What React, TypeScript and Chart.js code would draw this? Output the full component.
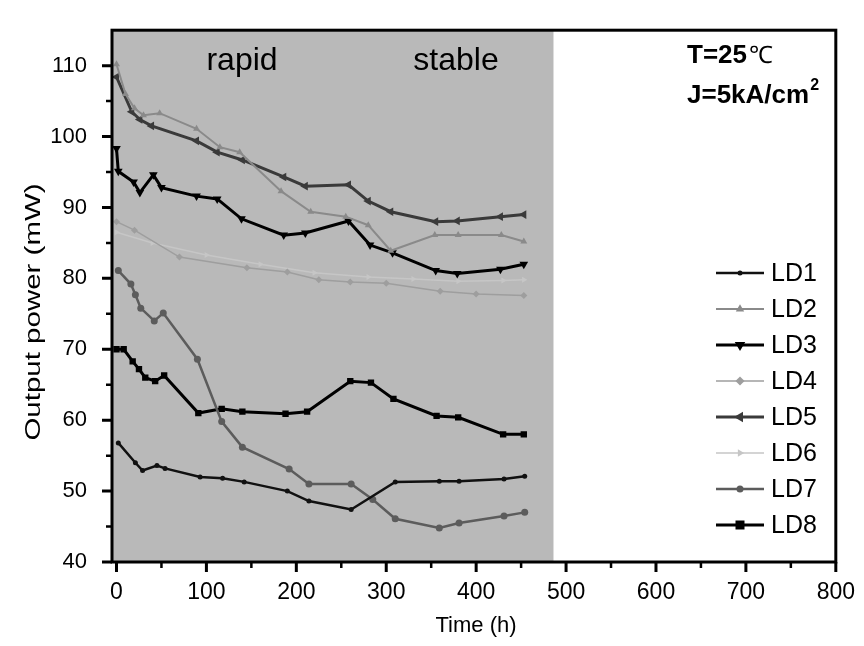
import React, { useEffect, useRef } from 'react';
import { Chart, registerables } from 'chart.js';

Chart.register(...registerables);

const FONT = '"Liberation Sans", Arial, Helvetica, sans-serif';

// ---------- data ----------
const SERIES_NAMES = ['LD1', 'LD2', 'LD3', 'LD4', 'LD5', 'LD6', 'LD7', 'LD8'];

const ld1Time = [2, 21, 29, 45, 54, 93, 118, 142, 190, 214, 261, 310, 359, 381, 431, 454];
const ld1Power = [56.8, 54.0, 52.9, 53.6, 53.2, 52.0, 51.8, 51.3, 50.0, 48.6, 47.4, 51.3, 51.4, 51.4, 51.7, 52.1];

const ld2Time = [0, 10, 20, 30, 48, 89, 115, 137, 183, 216, 255, 280, 305, 354, 380, 428, 453];
const ld2Power = [110.2, 106, 104, 103, 103.3, 101.1, 98.5, 97.8, 92.3, 89.4, 88.7, 87.5, 83.9, 86.1, 86.1, 86.1, 85.2];

const ld3Time = [0, 2, 19, 26, 41, 50, 89, 112, 139, 186, 210, 258, 282, 307, 355, 379, 427, 453];
const ld3Power = [98.3, 95.1, 93.6, 92.1, 94.6, 92.8, 91.6, 91.2, 88.4, 86.1, 86.4, 88.1, 84.7, 83.6, 81.1, 80.7, 81.3, 82.0];

const ld4Time = [0, 20, 70, 145, 190, 225, 260, 300, 360, 400, 453];
const ld4Power = [88, 86.8, 83, 81.5, 80.9, 79.8, 79.5, 79.3, 78.2, 77.8, 77.6];

const ld5Time = [0, 17, 26, 39, 89, 112, 140, 186, 210, 258, 280, 305, 355, 379, 427, 453];
const ld5Power = [108.4, 103.5, 102.4, 101.5, 99.4, 97.8, 96.7, 94.3, 93.0, 93.2, 90.9, 89.4, 88.0, 88.1, 88.7, 89.0];

const ld6Time = [0, 40, 100, 160, 220, 280, 330, 380, 430, 453];
const ld6Power = [86.5, 85, 83.3, 82, 80.8, 80.2, 79.9, 79.6, 79.7, 79.8];

const ld7Time = [2, 16, 21, 27, 42, 52, 90, 117, 140, 192, 214, 261, 285, 310, 359, 381, 431, 454];
const ld7Power = [81.1, 79.2, 77.7, 75.8, 74.0, 75.1, 68.6, 59.8, 56.2, 53.1, 51.0, 51.0, 48.8, 46.1, 44.8, 45.5, 46.5, 47.0];

const ld8Time = [0, 8, 18, 25, 32, 43, 53, 91, 117, 140, 188, 212, 260, 283, 308, 356, 380, 430, 453];
const ld8Power = [70, 70, 68.3, 67.2, 66.0, 65.5, 66.3, 61.0, 61.6, 61.2, 60.9, 61.2, 65.5, 65.3, 63.0, 60.6, 60.4, 58.0, 58.0];

const X_MAJOR = [0, 100, 200, 300, 400, 500, 600, 700, 800];
const X_MINOR = [50, 150, 250, 350, 450, 550, 650, 750];
const Y_MAJOR = [40, 50, 60, 70, 80, 90, 100, 110];
const Y_MINOR = [45, 55, 65, 75, 85, 95, 105];
const SHADE_END = 486;

const TIMES = [ld1Time, ld2Time, ld3Time, ld4Time, ld5Time, ld6Time, ld7Time, ld8Time];
const POWERS = [ld1Power, ld2Power, ld3Power, ld4Power, ld5Power, ld6Power, ld7Power, ld8Power];

// ---------- styles ----------
const STYLES = [
  { color: '#111111', width: 2.5, point: 'circle', radius: 2.5, rot: 0 },
  { color: '#8a8a8a', width: 2, point: 'triangle', radius: 4, rot: 0 },
  { color: '#000000', width: 3, point: 'triangle', radius: 5, rot: 180 },
  { color: '#9e9e9e', width: 1.5, point: 'rectRot', radius: 3.5, rot: 0 },
  { color: '#3a3a3a', width: 3, point: 'triangle', radius: 5, rot: -90 },
  { color: '#c6c6c6', width: 1.5, point: 'triangle', radius: 3.5, rot: 90 },
  { color: '#5c5c5c', width: 2.5, point: 'circle', radius: 3.5, rot: 0 },
  { color: '#000000', width: 3, point: 'rect', radius: 4.5, rot: 0 },
];

function drawMarker(ctx: CanvasRenderingContext2D, style: string, x: number, y: number, r: number, rot: number, color: string) {
  ctx.save();
  ctx.translate(x, y);
  ctx.rotate((rot * Math.PI) / 180);
  ctx.fillStyle = color;
  ctx.beginPath();
  if (style === 'circle') {
    ctx.arc(0, 0, r, 0, Math.PI * 2);
  } else if (style === 'triangle') {
    ctx.moveTo(0, -r * 1.2);
    ctx.lineTo(r * 1.05, r * 0.6);
    ctx.lineTo(-r * 1.05, r * 0.6);
    ctx.closePath();
  } else if (style === 'rectRot') {
    ctx.moveTo(0, -r * 1.3);
    ctx.lineTo(r * 1.3, 0);
    ctx.lineTo(0, r * 1.3);
    ctx.lineTo(-r * 1.3, 0);
    ctx.closePath();
  } else {
    ctx.rect(-r, -r, r * 2, r * 2);
  }
  ctx.fill();
  ctx.restore();
}

const decorPlugin = {
  id: 'decor',
  beforeDatasetsDraw(chart: any) {
    const { ctx, chartArea, scales } = chart;
    const { left, top, bottom } = chartArea;
    const xe = scales.x.getPixelForValue(SHADE_END);
    ctx.save();
    ctx.fillStyle = '#b9b9b9';
    ctx.fillRect(left, top, xe - left, bottom - top);
    ctx.restore();
  },
  afterDatasetsDraw(chart: any) {
    const { ctx, chartArea, scales } = chart;
    const { left, top, right, bottom } = chartArea;
    const xs = scales.x;
    const ys = scales.y;
    ctx.save();
    // frame
    ctx.strokeStyle = '#000';
    ctx.lineWidth = 3;
    ctx.strokeRect(left, top, right - left, bottom - top);
    // ticks
    ctx.lineWidth = 3;
    ctx.beginPath();
    Y_MAJOR.forEach((v) => {
      const p = ys.getPixelForValue(v);
      ctx.moveTo(left - 10, p);
      ctx.lineTo(left, p);
    });
    X_MAJOR.forEach((v) => {
      const p = xs.getPixelForValue(v);
      ctx.moveTo(p, bottom);
      ctx.lineTo(p, bottom + 10);
    });
    ctx.stroke();
    ctx.lineWidth = 2.5;
    ctx.beginPath();
    Y_MINOR.forEach((v) => {
      const p = ys.getPixelForValue(v);
      ctx.moveTo(left - 6, p);
      ctx.lineTo(left, p);
    });
    X_MINOR.forEach((v) => {
      const p = xs.getPixelForValue(v);
      ctx.moveTo(p, bottom);
      ctx.lineTo(p, bottom + 6);
    });
    ctx.stroke();

    // annotations
    ctx.fillStyle = '#000';
    ctx.textBaseline = 'alphabetic';
    ctx.textAlign = 'center';
    ctx.font = `32px ${FONT}`;
    ctx.fillText('rapid', 242, 70);
    ctx.fillText('stable', 456, 70);

    ctx.textAlign = 'left';
    ctx.font = `bold 26px ${FONT}`;
    ctx.fillText('T=25', 687, 63);
    const tw = ctx.measureText('T=25').width;
    ctx.font = `24px ${FONT}`;
    ctx.fillText('\u2103', 687 + tw + 2, 63);
    ctx.font = `bold 26px ${FONT}`;
    ctx.fillText('J=5kA/cm', 687, 103);
    const jw = ctx.measureText('J=5kA/cm').width;
    ctx.font = `bold 16px ${FONT}`;
    ctx.fillText('2', 687 + jw + 1, 90);

    // axis titles
    ctx.font = `22px ${FONT}`;
    ctx.textAlign = 'center';
    ctx.textBaseline = 'middle';
    ctx.fillText('Time (h)', 476, 626);
    ctx.save();
    ctx.translate(34, 312);
    ctx.rotate(-Math.PI / 2);
    ctx.scale(1.34, 1);
    ctx.fillText('Output power (mW)', 0, 0);
    ctx.restore();

    // legend
    ctx.font = `25px ${FONT}`;
    ctx.textAlign = 'left';
    ctx.textBaseline = 'middle';
    chart.data.datasets.forEach((ds: any, i: number) => {
      const st = STYLES[i];
      const y = 273 + 36 * i;
      ctx.strokeStyle = st.color;
      ctx.lineWidth = st.width;
      ctx.beginPath();
      ctx.moveTo(716, y);
      ctx.lineTo(764, y);
      ctx.stroke();
      drawMarker(ctx, st.point, 740, y, st.radius, st.rot, st.color);
      ctx.fillStyle = '#000';
      ctx.fillText(ds.label, 771, y + 1);
    });
    ctx.restore();
  },
};

export default function App() {
  const ref = useRef<HTMLCanvasElement | null>(null);

  useEffect(() => {
    if (!ref.current) return;
    const datasets = SERIES_NAMES.map((name, i) => {
      const st = STYLES[i];
      return {
        label: name,
        data: TIMES[i].map((t, j) => ({ x: t, y: POWERS[i][j] })),
        borderColor: st.color,
        backgroundColor: st.color,
        borderWidth: st.width,
        pointStyle: st.point,
        pointRadius: st.radius,
        pointRotation: st.rot,
        pointBorderWidth: 0,
        pointBackgroundColor: st.color,
        tension: 0,
        fill: false,
      };
    });

    const chart = new Chart(ref.current, {
      type: 'line',
      data: { datasets } as any,
      options: {
        responsive: false,
        animation: false,
        layout: { padding: { top: 18, right: 24, left: 0, bottom: 0 } },
        plugins: {
          legend: { display: false },
          tooltip: { enabled: false },
        },
        scales: {
          x: {
            type: 'linear',
            min: -5,
            max: 800,
            afterFit: (s: any) => { s.height = 84; },
            afterBuildTicks: (s: any) => { s.ticks = X_MAJOR.map((v) => ({ value: v })); },
            grid: { display: false },
            border: { display: false },
            ticks: {
              color: '#000',
              padding: 9,
              maxRotation: 0,
              font: { family: FONT, size: 23 },
            },
          },
          y: {
            type: 'linear',
            min: 40,
            max: 115,
            afterFit: (s: any) => { s.width = 112; },
            afterBuildTicks: (s: any) => { s.ticks = Y_MAJOR.map((v) => ({ value: v })); },
            grid: { display: false },
            border: { display: false },
            ticks: {
              color: '#000',
              padding: 17,
              font: { family: FONT, size: 22 },
            },
          },
        },
      } as any,
      plugins: [decorPlugin],
    });
    return () => chart.destroy();
  }, []);

  return (
    <div style={{ position: 'fixed', left: 0, top: 0, width: 864, height: 646, background: '#fff' }}>
      <canvas ref={ref} width={864} height={646} style={{ display: 'block' }} />
    </div>
  );
}
